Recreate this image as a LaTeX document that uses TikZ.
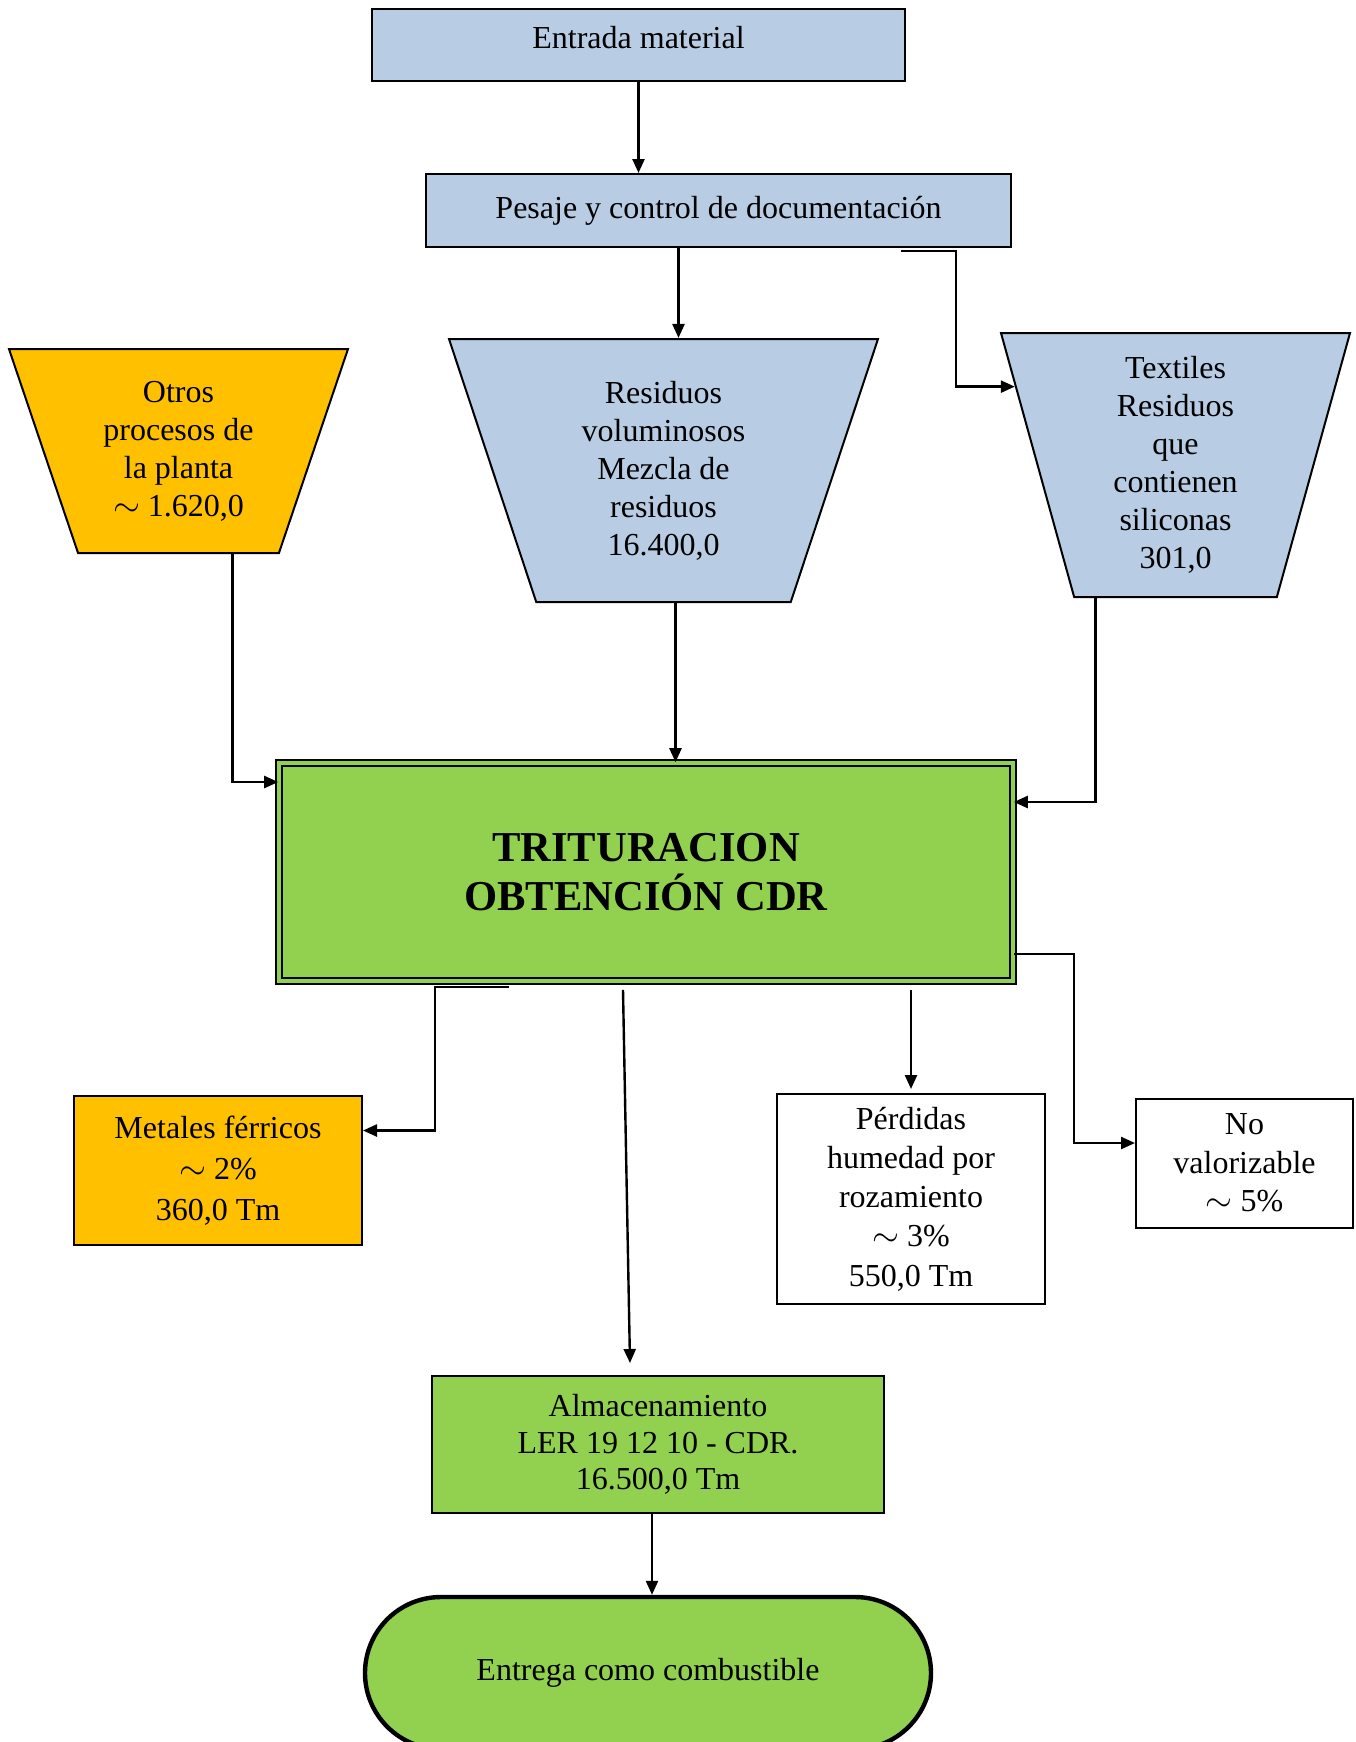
\documentclass[tikz,border=0pt]{standalone}
\usepackage{fontspec}
\setmainfont{Liberation Serif}
\usetikzlibrary{shapes.geometric,arrows.meta}
\definecolor{capa}{HTML}{B8CCE4}
\definecolor{oro}{HTML}{FFC000}
\definecolor{verde}{HTML}{92D050}
\begin{document}
\begin{tikzpicture}[x=0.5pt,y=-0.5pt,
    txt/.style={font=\fontsize{16}{19}\selectfont,align=center},
    caja/.style={txt,draw,line width=1pt,rectangle,inner sep=2pt},
    tolva/.style={txt,draw,line width=1pt,trapezium,trapezium stretches body,
        shape border rotate=180,inner sep=2pt},
    flecha/.style={line width=1.2pt,-{Triangle[length=7pt,width=6pt]}}]
    \useasboundingbox (0,0) rectangle (1356,1742);
    %% Entrada y pesaje
    \node[caja,fill=capa,minimum width=266.5pt,minimum height=36pt,text depth=7.5pt]
        (entrada) at (638.5,45) {Entrada material};
    \node[caja,fill=capa,minimum width=292.5pt,minimum height=36.5pt]
        (pesaje) at (718.5,210.5) {Pesaje y control de documentación};
    %% Tolvas
    \node[tolva,fill=oro,trapezium left angle=65,trapezium right angle=65,
        minimum width=169.5pt,minimum height=102pt]
        (otros) at (178.5,451) {Otros\\procesos de\\la planta\\$\sim$ 1.620,0};
    \node[tolva,fill=capa,trapezium left angle=65,trapezium right angle=65,
        minimum width=214.5pt,minimum height=131.5pt]
        (resid) at (663.5,470.5) {Residuos\\voluminosos\\Mezcla de\\residuos\\16.400,0};
    \node[tolva,fill=capa,trapezium left angle=72,trapezium right angle=72,
        minimum width=174.5pt,minimum height=132pt]
        (textil) at (1175.5,465) {Textiles\\Residuos\\que\\contienen\\siliconas\\301,0};
    %% Trituracion
    \node[draw,double=verde,double distance=2.4pt,line width=0.8pt,fill=verde,
        minimum width=367pt,minimum height=109pt,align=center,
        font=\fontsize{21.3}{24.5}\selectfont\bfseries]
        (trit) at (646,872) {TRITURACION\\OBTENCIÓN CDR};
    %% Salidas
    \node[caja,fill=oro,minimum width=144pt,minimum height=74.5pt,
        font=\fontsize{16}{20.5}\selectfont]
        (metal) at (218,1170.5) {Metales férricos\\$\sim$ 2\%\\360,0 Tm};
    \node[caja,fill=white,minimum width=134pt,minimum height=105pt,
        font=\fontsize{16}{19.6}\selectfont]
        (perd) at (911,1199) {Pérdidas\\humedad por\\rozamiento\\$\sim$ 3\%\\550,0 Tm};
    \node[caja,fill=white,minimum width=108.5pt,minimum height=64.5pt,
        font=\fontsize{16}{19.3}\selectfont]
        (noval) at (1244.5,1163) {No\\valorizable\\$\sim$ 5\%};
    \node[caja,fill=verde,minimum width=226pt,minimum height=68.5pt,
        font=\fontsize{16}{18.3}\selectfont]
        (almac) at (658,1444.5) {Almacenamiento\\LER 19 12 10 - CDR.\\16.500,0 Tm};
    \node[caja,fill=verde,line width=2.2pt,rounded corners=38pt,
        minimum width=283pt,minimum height=76pt]
        (entrega) at (648,1673) {Entrega como combustible};
    %% Flechas
    \draw[flecha] (entrada.south) -- (entrada.south |- pesaje.north);
    \draw[flecha] ([xshift=-20pt]pesaje.south) -- ([xshift=-20pt]pesaje.south |- resid.90);
    \draw[flecha] ([xshift=-55.5pt,yshift=-1.5pt]pesaje.south east) -- ++(55,0)
        |- (textil.154);
    \draw[flecha] ([xshift=27pt]otros.-90) |- ([yshift=45pt]trit.west);
    \draw[flecha] ([xshift=6pt]resid.-90) -- ([xshift=6pt]resid.-90 |- trit.north);
    \draw[flecha] ([xshift=-40pt]textil.-90) |- ([yshift=35pt]trit.east);
    \draw[flecha] ([xshift=-68.5pt,yshift=-2.5pt]trit.south) -- ++(-74,0)
        |- ([yshift=20pt]metal.east);
    \draw[flecha] ([xshift=-11.5pt,yshift=-4pt]trit.south)
        -- ([xshift=-14pt,yshift=6pt]almac.north);
    \draw[flecha] ([yshift=-4pt]trit.south -| perd.north) -- ([yshift=2pt]perd.north);
    \draw[flecha] ([yshift=-41pt]trit.east) -- ++(60,0) |- ([yshift=10pt]noval.west);
    \draw[flecha] ([xshift=-3pt]almac.south) -- ([xshift=-3pt]almac.south |- entrega.north);
\end{tikzpicture}
\end{document}
